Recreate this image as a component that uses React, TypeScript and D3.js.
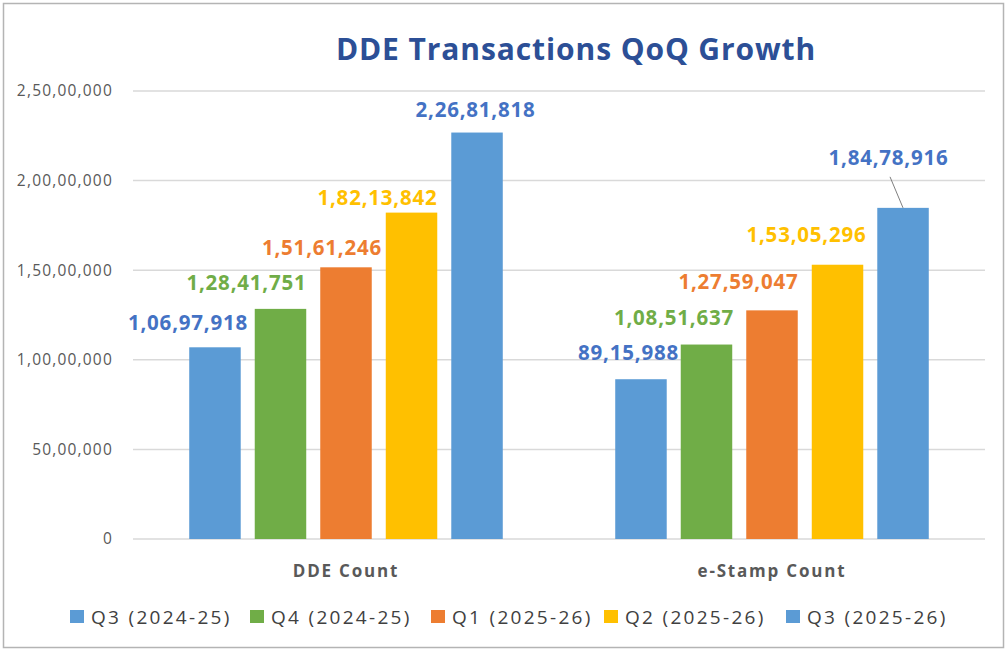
import React from "react";
import * as d3 from "d3";

const categories = ["DDE Count", "e-Stamp Count"];
const seriesNames = ["Q3 (2024-25)", "Q4 (2024-25)", "Q1 (2025-26)", "Q2 (2025-26)", "Q3 (2025-26)"];
const ddeValues = [10697918, 12841751, 15161246, 18213842, 22681818];
const eStampValues = [8915988, 10851637, 12759047, 15305296, 18478916];
const yTicks = [0, 5000000, 10000000, 15000000, 20000000, 25000000];

// styles / layout
const barColors = ["#5B9BD5", "#70AD47", "#ED7D31", "#FFC000", "#5B9BD5"];
const labelColors = ["#4472C4", "#70AD47", "#ED7D31", "#FFC000", "#4472C4"];
// manual label nudges (dx from bar centre, baseline gap above bar top)
const labelDx = [
  [-27, -34, -24, -34, -1.5],
  [-12.5, -32.5, -33.5, -31, -14.5],
];
const labelGap = [
  [17, 19, 12, 8, 16],
  [19, 20, 21, 23, 43],
];
const legendX = [70, 250, 431, 604, 786];

const W = 1006;
const H = 650;
const FONT = "'Open Sans', 'DejaVu Sans', sans-serif";

function indianFormat(n: number): string {
  const s = Math.round(n).toString();
  if (s.length <= 3) return s;
  const last3 = s.slice(-3);
  let rest = s.slice(0, -3);
  const parts: string[] = [];
  while (rest.length > 2) {
    parts.unshift(rest.slice(-2));
    rest = rest.slice(0, -2);
  }
  if (rest.length) parts.unshift(rest);
  return parts.join(",") + "," + last3;
}

export default function App() {
  const values = [ddeValues, eStampValues];
  const y = d3.scaleLinear().domain([0, 25000000]).range([539, 91]);
  const x0 = d3
    .scaleBand<string>()
    .domain(categories)
    .range([133, 985])
    .paddingInner(0.264)
    .paddingOuter(0.132);
  const x1 = d3
    .scaleBand<number>()
    .domain(d3.range(seriesNames.length))
    .range([0, x0.bandwidth()])
    .paddingInner(0.214)
    .paddingOuter(0);

  return (
    <svg
      width={W}
      height={H}
      style={{ position: "absolute", left: 0, top: 0, background: "#fff" }}
      fontFamily={FONT}
    >
      <rect x={0} y={0} width={W} height={H} fill="#fff" />
      <rect x={3.5} y={3.5} width={W - 6} height={H - 6} fill="none" stroke="#b4b4b4" strokeWidth={1.5} />
      <text
        x={576}
        y={60}
        textAnchor="middle"
        fontSize={30}
        fontWeight={700}
        letterSpacing={0.9}
        fill="#2C4F96"
      >
        DDE Transactions QoQ Growth
      </text>
      {yTicks.map((t) => (
        <g key={t}>
          <line x1={133} x2={985} y1={y(t)} y2={y(t)} stroke="#d9d9d9" strokeWidth={1.5} />
          <text
            x={113}
            y={y(t)}
            dy="0.35em"
            textAnchor="end"
            fontSize={15.5}
            letterSpacing={1.2}
            fill="#595959"
          >
            {indianFormat(t)}
          </text>
        </g>
      ))}
      {categories.map((c, ci) => (
        <g key={c} transform={`translate(${x0(c)},0)`}>
          {values[ci].map((v, si) => (
            <rect
              key={si}
              x={x1(si)}
              y={y(v)}
              width={x1.bandwidth()}
              height={y(0) - y(v)}
              fill={barColors[si]}
            />
          ))}
          {values[ci].map((v, si) => {
            const cx = (x1(si) as number) + x1.bandwidth() / 2 + labelDx[ci][si];
            const by = y(v) - labelGap[ci][si];
            return (
              <text
                key={"l" + si}
                x={cx}
                y={by}
                textAnchor="middle"
                fontSize={20.5}
                fontWeight={700}
                letterSpacing={0.8}
                fill={labelColors[si]}
              >
                {indianFormat(v)}
              </text>
            );
          })}
          {ci === 1 && (
            <line
              x1={(x1(4) as number) + x1.bandwidth() / 2 - 13}
              y1={y(values[ci][4]) - 31}
              x2={(x1(4) as number) + x1.bandwidth() / 2}
              y2={y(values[ci][4])}
              stroke="#7f7f7f"
              strokeWidth={1}
            />
          )}
          <text
            x={x0.bandwidth() / 2}
            y={577}
            textAnchor="middle"
            fontSize={17}
            fontWeight={700}
            letterSpacing={1.8}
            fill="#595959"
          >
            {c}
          </text>
        </g>
      ))}
      {seriesNames.map((s, i) => (
        <g key={i} transform={`translate(${legendX[i]},0)`}>
          <rect x={0} y={610} width={14} height={13} fill={barColors[i]} />
          <text x={21} y={617} dy="0.35em" fontSize={19} letterSpacing={2.3} fill="#404040">
            {s}
          </text>
        </g>
      ))}
    </svg>
  );
}
